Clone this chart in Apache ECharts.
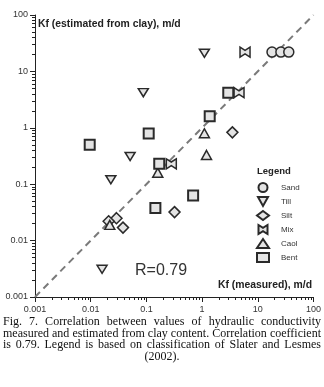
<!DOCTYPE html>
<html>
<head>
<meta charset="utf-8">
<script src="https://cdn.jsdelivr.net/npm/echarts@6/dist/echarts.min.js"></script>
<style>
  html, body { margin: 0; padding: 0; background: #fff; }
  #wrap { position: relative; width: 324px; height: 387px; }
  #chart { position: absolute; left: 0; top: 0; width: 324px; height: 387px; }
  #caption {
    position: absolute; left: 3px; top: 316px; width: 318px;
    font-family: "Liberation Serif", "DejaVu Serif", serif;
    font-size: 12px; line-height: 11.7px; color: #111;
    text-align: justify; text-align-last: center;
  }
</style>
</head>
<body>
<div id="wrap">
  <div id="chart"></div>
  <div id="caption">Fig. 7. Correlation between values of hydraulic conductivity measured and estimated from clay content. Correlation coefficient is 0.79. Legend is based on classification of Slater and Lesmes (2002).</div>
</div>
<script>
// values: [Kf measured, Kf estimated], m/d
var sand = [[18, 22], [26, 22], [36, 22]]
var till = [[1.1, 21], [0.088, 4.2], [0.051, 0.31], [0.023, 0.12], [0.016, 0.0031]]
var silt = [[3.5, 0.83], [0.32, 0.032], [0.029, 0.025], [0.021, 0.022], [0.038, 0.017]]
var mix = [[5.9, 22], [4.6, 4.2], [0.28, 0.23]]
var caol = [[1.1, 0.8], [1.2, 0.33], [0.16, 0.16], [0.022, 0.019]]
var bent = [[2.95, 4.2], [1.37, 1.6], [0.11, 0.79], [0.0096, 0.5], [0.17, 0.23], [0.69, 0.063], [0.145, 0.038]]
var oneToOne = [[0.001, 0.001], [100, 100]]
var tickLabels = ['0.001', '0.01', '0.1', '1', '10', '100']

// minor ticks at 2..9 of every decade
var minorVals = []
for (var k = -3; k <= 1; k++) {
  for (var m = 2; m <= 9; m++) minorVals.push(Number((m * Math.pow(10, k)).toPrecision(1)))
}

var fill = '#e4e4e4'
var edge = '#2a2a2a'
var downTri = 'path://M0,0L10,0L5,9Z'
var bowtie = 'path://M0,0L5,3.2L10,0L10,10L5,6.8L0,10Z'

function labelFmt(v) {
  var i = Math.round(Math.log(v) / Math.LN10) + 3
  return tickLabels[i] || ''
}

function mainAxis(pos) {
  return {
    type: 'log', logBase: 10, min: 0.001, max: 100, position: pos,
    axisLine: { show: true, lineStyle: { color: '#222', width: 1 } },
    axisTick: { show: true, length: 5, lineStyle: { color: '#222' } },
    minorTick: { show: false },
    splitLine: { show: false },
    axisLabel: { fontFamily: 'Liberation Sans', fontSize: 9, color: '#333', margin: pos === 'left' ? 7 : 8, formatter: labelFmt }
  }
}
function minorAxis(pos) {
  return {
    type: 'log', logBase: 10, min: 0.001, max: 100, position: pos,
    axisLine: { show: false },
    axisTick: { show: true, length: 3, customValues: minorVals, lineStyle: { color: '#222' } },
    axisLabel: { show: false },
    splitLine: { show: false }
  }
}

function pts(name, data, symbol, size, bw) {
  return {
    name: name, type: 'scatter', data: data, symbol: symbol, symbolSize: size,
    symbolKeepAspect: true,
    itemStyle: { color: fill, borderColor: edge, borderWidth: bw, opacity: 1 },
    z: 3
  }
}

var chart = echarts.init(document.getElementById('chart'))
chart.setOption({
  animation: false,
  grid: { left: 35, right: 9, top: 15, bottom: 90 },
  xAxis: [mainAxis('bottom'), minorAxis('bottom')],
  yAxis: [mainAxis('left'), minorAxis('left')],
  legend: {
    orient: 'vertical', left: 256, top: 182, padding: 0,
    itemWidth: 12, itemHeight: 9, itemGap: 3,
    textStyle: { fontFamily: 'Liberation Sans', fontSize: 8, lineHeight: 10, color: '#333', padding: [0, 0, 0, 7] },
    data: ['Sand', 'Till', 'Silt', 'Mix', 'Caol', 'Bent']
  },
  graphic: [
    { type: 'text', left: 38, top: 19, style: { text: 'Kf (estimated from clay), m/d', font: 'bold 10.4px "Liberation Sans"', fill: '#222' } },
    { type: 'text', right: 12, top: 280, style: { text: 'Kf (measured), m/d', font: 'bold 10.4px "Liberation Sans"', fill: '#222' } },
    { type: 'text', left: 135, top: 263, style: { text: 'R=0.79', font: '16px "Liberation Sans"', fill: '#333' } },
    { type: 'text', left: 257, top: 166, style: { text: 'Legend', font: 'bold 9.5px "Liberation Sans"', fill: '#222' } }
  ],
  series: [
    {
      type: 'line', data: oneToOne, symbol: 'none', silent: true, z: 1,
      lineStyle: { color: '#7a7a7a', width: 2, type: [7, 5] }
    },
    pts('Sand', sand, 'circle', 10, 1.5),
    pts('Till', till, downTri, [10, 9], 1.5),
    pts('Silt', silt, 'diamond', [11, 11], 1.5),
    pts('Mix', mix, bowtie, [10, 10], 1.5),
    pts('Caol', caol, 'triangle', [10, 9], 1.5),
    pts('Bent', bent, 'rect', 10, 2)
  ]
})
</script>
</body>
</html>
